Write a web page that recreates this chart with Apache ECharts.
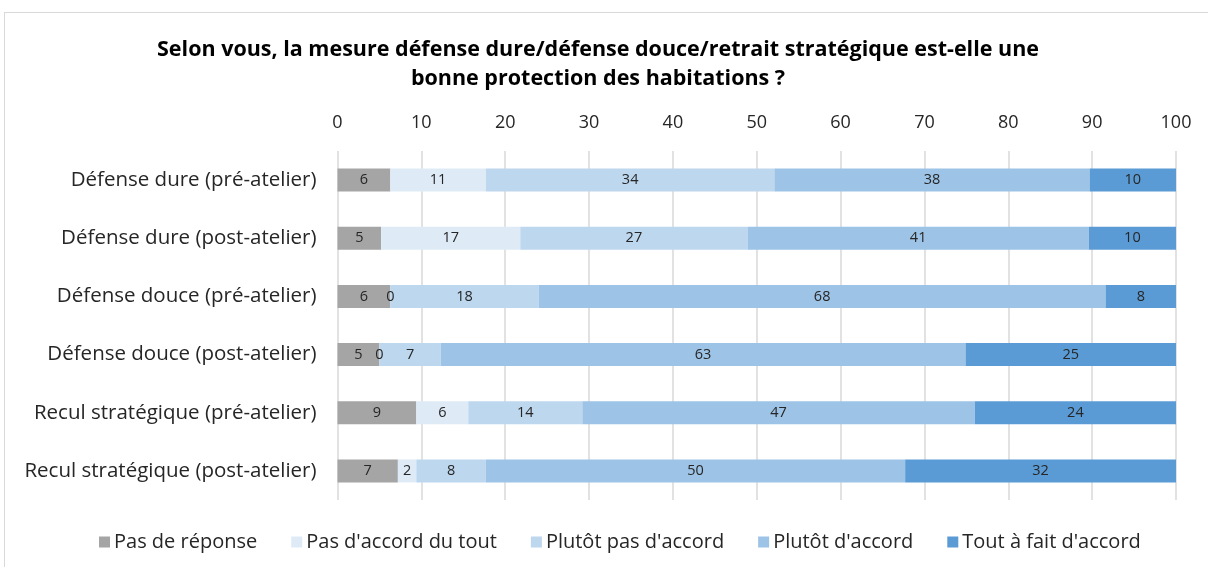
<!DOCTYPE html>
<html>
<head>
<meta charset="utf-8">
<script src="https://cdn.jsdelivr.net/npm/echarts@6/dist/echarts.min.js"></script>
<style>
  html, body { margin: 0; padding: 0; background: #fff; }
  #frame { position: absolute; left: 4px; top: 12px; width: 1210px; height: 560px; border: 1.5px solid #d9d9d9; box-sizing: border-box; }
  #chart { position: absolute; left: 0; top: 0; width: 1208px; height: 567px; }
</style>
</head>
<body>
<div id="frame"></div>
<div id="chart"></div>
<script>
// Rows, top to bottom
const categories = [
  'Défense dure (pré-atelier)',
  'Défense dure (post-atelier)',
  'Défense douce (pré-atelier)',
  'Défense douce (post-atelier)',
  'Recul stratégique (pré-atelier)',
  'Recul stratégique (post-atelier)'
];

// Response shares (%) per row
const pasDeReponse   = [6.3, 5.2, 6.3, 5.0, 9.4, 7.2];
const pasDuTout      = [11.4, 16.6, 0, 0, 6.2, 2.2];
const plutotPas      = [34.4, 27.1, 17.7, 7.3, 13.6, 8.3];
const plutotAccord   = [37.6, 40.7, 67.6, 62.6, 46.8, 50.0];
const toutAFait      = [10.3, 10.4, 8.4, 25.1, 24.0, 32.3];

const seriesNames = ['Pas de réponse', "Pas d'accord du tout", "Plutôt pas d'accord", "Plutôt d'accord", "Tout à fait d'accord"];
const seriesData = [pasDeReponse, pasDuTout, plutotPas, plutotAccord, toutAFait];
const colors = ['#a5a5a5', '#deebf7', '#bdd7ee', '#9dc3e6', '#5b9bd5'];

const FONT = '"Open Sans", Lato, sans-serif';

const chart = echarts.init(document.getElementById('chart'), null, { renderer: 'canvas' });

chart.setOption({
  animation: false,
  textStyle: { fontFamily: FONT },
  title: {
    text: 'Selon vous, la mesure défense dure/défense douce/retrait stratégique est-elle une\nbonne protection des habitations ?',
    left: 593,
    top: 30,
    textAlign: 'center',
    textStyle: { fontFamily: FONT, fontSize: 21.5, fontWeight: 'bold', color: '#000', lineHeight: 29 }
  },
  legend: {
    bottom: 10,
    left: 94,
    itemWidth: 11,
    itemHeight: 11,
    itemGap: 34,
    icon: 'rect',
    textStyle: { fontFamily: FONT, fontSize: 20, color: '#262626', padding: [0, 0, 0, -1] },
    data: seriesNames
  },
  grid: { left: 337.5, right: 32, top: 151, bottom: 67 },
  xAxis: {
    type: 'value',
    position: 'top',
    min: 0,
    max: 100,
    interval: 10,
    axisLine: { show: false },
    axisTick: { show: false },
    axisLabel: { fontFamily: FONT, fontSize: 18, color: '#262626', margin: 19 },
    splitLine: { show: true, lineStyle: { color: '#d9d9d9', width: 1.5 } }
  },
  yAxis: {
    type: 'category',
    inverse: true,
    data: categories,
    axisLine: { show: false },
    axisTick: { show: false },
    axisLabel: { fontFamily: FONT, fontSize: 20.5, color: '#262626', margin: 21 }
  },
  series: seriesData.map((d, i) => ({
    name: seriesNames[i],
    type: 'bar',
    stack: 'total',
    barWidth: 23,
    itemStyle: { color: colors[i] },
    label: {
      show: true,
      position: 'inside',
      fontFamily: FONT,
      fontSize: 14.5,
      color: '#262626',
      formatter: p => String(Math.round(p.value))
    },
    data: d
  }))
});
</script>
</body>
</html>
